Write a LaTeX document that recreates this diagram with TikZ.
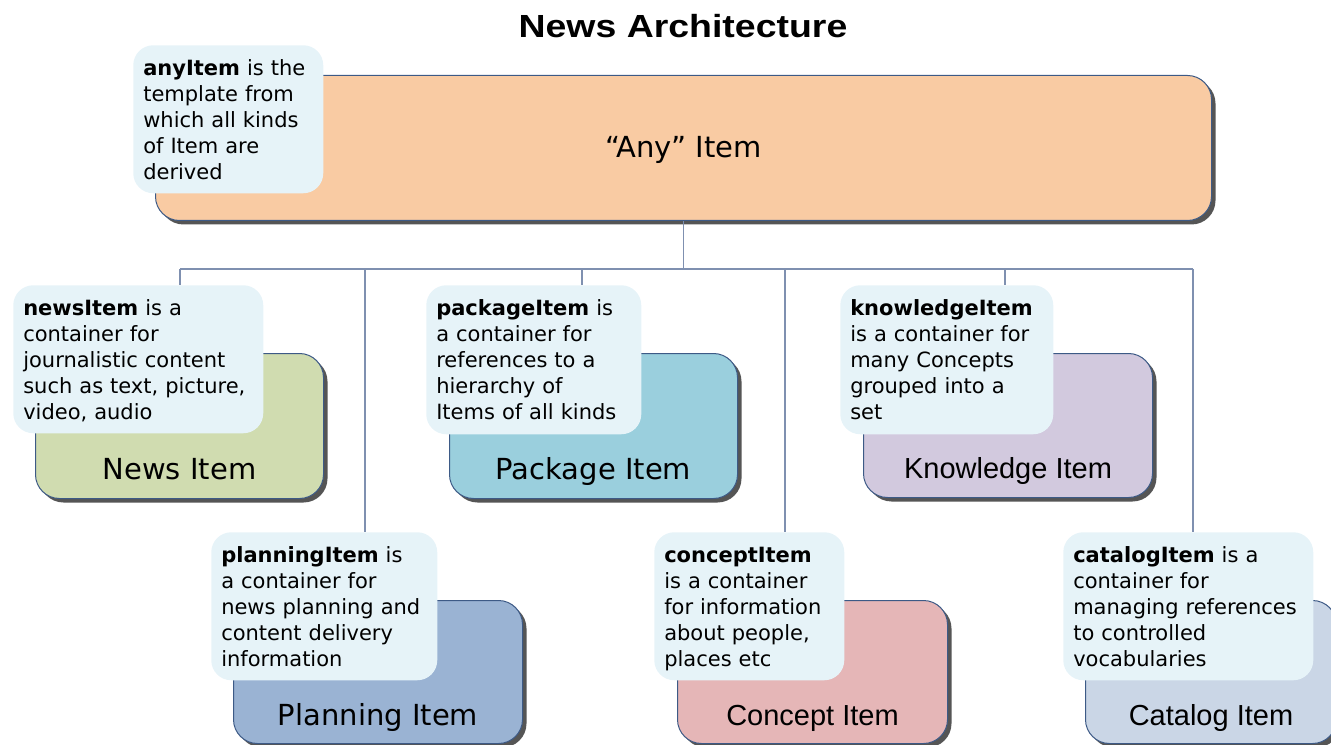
\documentclass[tikz,border=0pt]{standalone}
\usepackage{fontspec}
\usepackage{graphicx}
\setmainfont{DejaVu Sans}
\newfontfamily\libsans{Liberation Sans}
\usetikzlibrary{shadows}
\definecolor{anyc}{HTML}{F9CBA3}
\definecolor{newsc}{HTML}{D0DCB0}
\definecolor{packc}{HTML}{9ACFDD}
\definecolor{knowc}{HTML}{D2C9DE}
\definecolor{planc}{HTML}{9AB3D3}
\definecolor{concc}{HTML}{E5B6B7}
\definecolor{catc}{HTML}{CAD6E6}
\definecolor{callc}{HTML}{E6F3F8}
\definecolor{borderc}{HTML}{3D5A86}
\definecolor{linec}{HTML}{7F90B0}
\definecolor{shadowc}{HTML}{555555}
\newcommand{\firstrow}{\rule{0pt}{18.15pt}}
\begin{document}
\begin{tikzpicture}[x=0.75pt,y=-0.75pt,
  itembox/.style={draw=borderc, line width=0.75pt, rounded corners=18pt, anchor=north west, inner sep=0pt,
    drop shadow={shadow xshift=3pt, shadow yshift=-3pt, fill=shadowc, opacity=1}},
  callout/.style={fill=callc, draw=none, rounded corners=15pt, anchor=north west, align=left,
    inner xsep=7.5pt, inner ysep=0pt, font=\fontsize{15.75pt}{19.5pt}\selectfont},
  lbl/.style={anchor=base, inner sep=0pt, font=\fontsize{21.75pt}{26pt}\selectfont},
  lblb/.style={anchor=base, inner sep=0pt, font=\libsans\fontsize{21.75pt}{26pt}\selectfont},
  conn/.style={draw=linec, line width=1.1pt}]
\useasboundingbox (0,0) rectangle (1331,745);
\clip (0,0) rectangle (1331,745);

% title
\node[anchor=base, inner sep=0pt, font=\libsans\bfseries\fontsize{24pt}{28pt}\selectfont] (title) at (683,38) {\scalebox{1.17}[1]{News Architecture}};

% item boxes
\node[itembox, fill=anyc, minimum width=1056*0.75pt, minimum height=145*0.75pt] (any) at (155,75) {};
\node[itembox, fill=newsc, minimum width=288*0.75pt, minimum height=145*0.75pt] (news) at (35,353) {};
\node[itembox, fill=packc, minimum width=288*0.75pt, minimum height=145*0.75pt] (pack) at (449,353) {};
\node[itembox, fill=knowc, minimum width=289*0.75pt, minimum height=144*0.75pt] (know) at (863,353) {};
\node[itembox, fill=planc, minimum width=289*0.75pt, minimum height=143*0.75pt] (plan) at (233,600) {};
\node[itembox, fill=concc, minimum width=270*0.75pt, minimum height=143*0.75pt] (conc) at (677,600) {};
\node[itembox, fill=catc, minimum width=251*0.75pt, minimum height=143*0.75pt] (cat) at (1085,600) {};

% labels
\node[lbl] (anyl) at ([yshift=-7pt]any.center) {“Any” Item};
\node[lbl] (newsl) at ([yshift=15pt]news.south) {News Item};
\node[lbl] (packl) at ([yshift=15pt]pack.south) {Package Item};
\node[lblb] (knowl) at ([yshift=15pt]know.south) {Knowledge Item};
\node[lbl] (planl) at ([yshift=14pt]plan.south) {Planning Item};
\node[lblb] (concl) at ([yshift=14pt]conc.south) {Concept Item};
\node[lblb] (catl) at ([yshift=14pt]cat.south) {Catalog Item};

% callouts
\node[callout, text width=170*0.75pt, minimum height=148*0.75pt] (anyc) at (133,45)
  {\begin{tabular}{@{}l@{}}\firstrow\textbf{anyItem} is the\\template from\\which all kinds\\of Item are\\derived\end{tabular}};
\node[callout, text width=230*0.75pt, minimum height=148*0.75pt] (newsco) at (13,285)
  {\begin{tabular}{@{}l@{}}\firstrow\textbf{newsItem} is a\\container for\\journalistic content\\such as text, picture,\\video, audio\end{tabular}};
\node[callout, text width=195*0.75pt, minimum height=149*0.75pt] (packco) at (426,285)
  {\begin{tabular}{@{}l@{}}\firstrow\textbf{packageItem} is\\a container for\\references to a\\hierarchy of\\Items of all kinds\end{tabular}};
\node[callout, text width=193*0.75pt, minimum height=149*0.75pt] (knowco) at (840,285)
  {\begin{tabular}{@{}l@{}}\firstrow\textbf{knowledgeItem}\\is a container for\\many Concepts\\grouped into a\\set\end{tabular}};
\node[callout, text width=206*0.75pt, minimum height=148*0.75pt] (planco) at (211,532)
  {\begin{tabular}{@{}l@{}}\firstrow\textbf{planningItem} is\\a container for\\news planning and\\content delivery\\information\end{tabular}};
\node[callout, text width=170*0.75pt, minimum height=148*0.75pt] (concco) at (654,532)
  {\begin{tabular}{@{}l@{}}\firstrow\textbf{conceptItem}\\is a container\\for information\\about people,\\places etc\end{tabular}};
\node[callout, text width=230*0.75pt, minimum height=148*0.75pt] (catco) at (1063,532)
  {\begin{tabular}{@{}l@{}}\firstrow\textbf{catalogItem} is a\\container for\\managing references\\to controlled\\vocabularies\end{tabular}};

% connectors
\coordinate (b1) at (180,269);
\coordinate (b2) at (365,269);
\coordinate (b3) at (582,269);
\coordinate (b4) at (785,269);
\coordinate (b5) at (1005,269);
\coordinate (b6) at (1193,269);
\draw[conn] (any.south) -- (any.south |- b1);
\draw[conn] (b1) -- (b6);
\draw[conn] (b1) -- (b1 |- newsco.north);
\draw[conn] (b2) -- (b2 |- planco.north);
\draw[conn] (b3) -- (b3 |- packco.north);
\draw[conn] (b4) -- (b4 |- concco.north);
\draw[conn] (b5) -- (b5 |- knowco.north);
\draw[conn] (b6) -- (b6 |- catco.north);
\end{tikzpicture}
\end{document}
